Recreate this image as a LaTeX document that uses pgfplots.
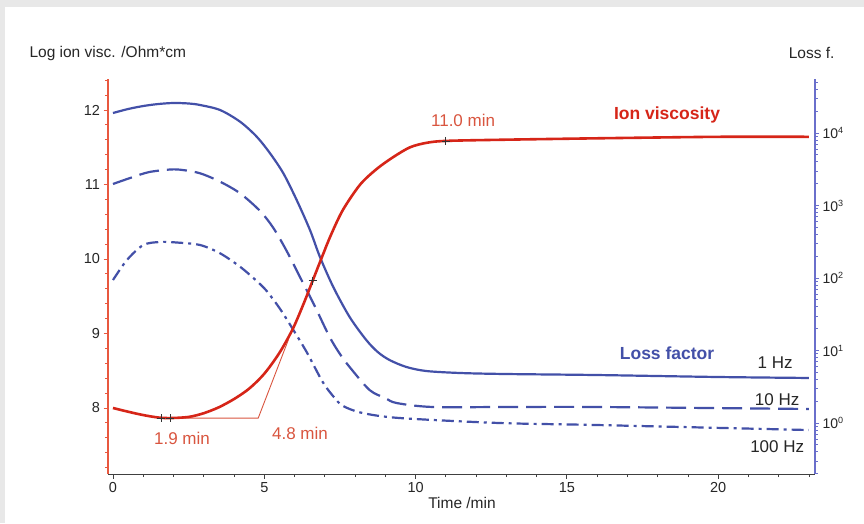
\documentclass[border=0pt]{standalone}
\usepackage{pgfplots}
\pgfplotsset{compat=1.18}
\usepackage{fontspec}
\setmainfont{Liberation Sans}
\definecolor{axred}{HTML}{E8583F}
\definecolor{curvered}{HTML}{D62518}
\definecolor{txtred}{HTML}{D9553F}
\definecolor{axblue}{HTML}{6A6FCB}
\definecolor{curveblue}{HTML}{4350A8}
\definecolor{bgray}{HTML}{E8E8E8}
\newcommand{\tenp}[1]{10\raisebox{5pt}{\fontsize{9}{9}\selectfont #1}}
\begin{document}
\begin{tikzpicture}
\fill[bgray] (0pt,0pt) rectangle (864pt,523pt);
\fill[white] (5pt,0pt) rectangle (864pt,516pt);
% ---------- right (log) axis with loss factor ----------
\begin{axis}[
 at={(108pt,49pt)}, anchor=south west, scale only axis, width=707pt, height=395pt,
 xmin=-0.165, xmax=23.2, ymode=log, ymin=0.198, ymax=55590,
 axis x line=none, axis y line*=right,
 y axis line style={draw=axblue, line width=1.3pt},
 ytick={1,10,100,1000,10000},
 yticklabels={\tenp{0},\tenp{1},\tenp{2},\tenp{3},\tenp{4}},
 minor ytick={0.2,0.3,0.4,0.5,0.6,0.7,0.8,0.9,2,3,4,5,6,7,8,9,20,30,40,50,60,70,80,90,200,300,400,500,600,700,800,900,2000,3000,4000,5000,6000,7000,8000,9000,20000,30000,40000,50000},
 y tick style={draw=axblue, line width=0.8pt},
 tick align=outside, major tick length=4pt, minor tick length=2.5pt,
 yticklabel style={font=\fontsize{14}{16}\selectfont, text=black!85},
 /pgf/number format/assume math mode=true,
]
\addplot[curveblue, line width=2.2pt, smooth] coordinates {
(0,18880)(0.5,21430)(1,23570)(1.5,25120)(2,25940)(2.5,25540)(2.88,24330)(3.54,20750)(4.2,14320)(4.75,8895)(5.19,5248)(5.63,2781)(6.07,1191)(6.51,459)(6.84,195)(7.28,75.2)(7.82,29.0)(8.37,13.96)(8.75,9.53)(9.14,7.39)(9.7,5.92)(10.36,5.21)(11.5,4.89)(13,4.74)(16,4.59)(20,4.31)(23,4.18)};
\addplot[curveblue, line width=2.2pt, smooth, dash pattern=on 20pt off 8pt] coordinates {
(0,1982)(0.66,2472)(1.2,2897)(1.9,3140)(2.3,3090)(2.88,2781)(3.54,2130)(4.2,1473)(4.86,840)(5.3,490)(5.74,236)(6.18,103)(6.4,68.3)(6.73,36.2)(7.16,15.35)(7.5,8.95)(7.82,5.92)(8.48,2.85)(9.0,2.21)(9.37,1.888)(10.56,1.663)(13,1.663)(16,1.663)(23,1.56)};
\addplot[curveblue, line width=2.2pt, smooth, dash pattern=on 12pt off 5pt on 3pt off 5pt] coordinates {
(0,93.8)(0.46,177)(1.0,285)(1.55,314)(2.1,309)(2.88,285)(3.54,219)(4.2,143)(4.75,90.9)(5.08,66.2)(5.5,38.6)(5.9,21.1)(6.4,9.53)(6.93,3.68)(7.3,2.28)(7.6,1.72)(8.25,1.374)(9.47,1.172)(12.77,1.0)(16,0.938)(23,0.800)};
\end{axis}
% ---------- left axis with ion viscosity ----------
\begin{axis}[
 at={(108pt,49pt)}, anchor=south west, scale only axis, width=707pt, height=395pt,
 xmin=-0.165, xmax=23.2, ymin=7.114, ymax=12.416,
 axis x line*=bottom, axis y line*=left,
 x axis line style={draw=black!75, line width=1pt},
 y axis line style={draw=axred, line width=1.3pt},
 xtick={0,5,10,15,20},
 minor xtick={1,2,3,4,6,7,8,9,11,12,13,14,16,17,18,19,21,22,23},
 ytick={8,9,10,11,12},
 minor ytick={7.2,7.4,7.6,7.8,8.2,8.4,8.6,8.8,9.2,9.4,9.6,9.8,10.2,10.4,10.6,10.8,11.2,11.4,11.6,11.8,12.2,12.4},
 x tick style={draw=black!75, line width=0.8pt},
 y tick style={draw=axred, line width=0.8pt},
 tick align=outside, major tick length=4.5pt, minor tick length=3pt,
 ticklabel style={font=\fontsize{14.5}{16}\selectfont, text=black!85},
 /pgf/number format/assume math mode=true,
 clip=false,
]
\addplot[txtred, line width=0.9pt] coordinates {(1.9,7.865)(4.8,7.865)(5.8,8.92)};
\addplot[curvered, line width=2.6pt, smooth] coordinates {
(0,8.00)(0.5,7.95)(1.0,7.905)(1.5,7.872)(1.9,7.865)(2.5,7.88)(3.0,7.93)(3.5,8.01)(4.0,8.12)(4.5,8.26)(5.0,8.46)(5.5,8.74)(5.94,9.06)(6.3,9.40)(6.6,9.71)(6.9,10.02)(7.2,10.32)(7.6,10.66)(8.17,11.0)(8.72,11.21)(9.27,11.37)(9.82,11.50)(10.37,11.56)(11.0,11.585)(12.77,11.60)(16,11.62)(20,11.64)(23,11.64)};
\addplot[only marks, mark=+, mark size=4pt, black!80, line width=0.8pt] coordinates {(1.6,7.865)(1.9,7.865)(6.6,9.71)(11.0,11.585)};
\node[txtred, font=\fontsize{17}{19}\selectfont] at (axis cs:2.28,7.597) {1.9 min};
\node[txtred, font=\fontsize{17}{19}\selectfont] at (axis cs:6.18,7.664) {4.8 min};
\node[txtred, font=\fontsize{17}{19}\selectfont] at (axis cs:11.57,11.866) {11.0 min};
\node[text=curvered, font=\fontsize{17.5}{19}\selectfont\bfseries] at (axis cs:18.31,11.933) {Ion viscosity};
\node[text=curveblue, font=\fontsize{17.5}{19}\selectfont\bfseries] at (axis cs:18.31,8.738) {Loss factor};
\node[text=black!85, font=\fontsize{17}{19}\selectfont] at (axis cs:21.88,8.604) {1 Hz};
\node[text=black!85, font=\fontsize{17}{19}\selectfont] at (axis cs:21.95,8.107) {10 Hz};
\node[text=black!85, font=\fontsize{17}{19}\selectfont] at (axis cs:21.95,7.477) {100 Hz};
\end{axis}
\node[anchor=west, text=black!85, font=\fontsize{15.5}{18}\selectfont] at (26pt,470pt) {Log ion visc. /Ohm*cm};
\node[anchor=east, text=black!85, font=\fontsize{15.5}{18}\selectfont] at (838pt,470pt) {Loss f.};
\node[text=black!85, font=\fontsize{15.5}{18}\selectfont] at (462pt,20pt) {Time /min};
\end{tikzpicture}
\end{document}
